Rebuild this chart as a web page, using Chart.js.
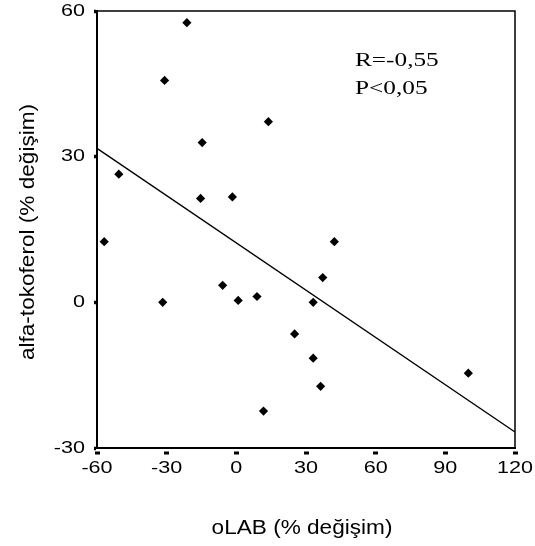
<!DOCTYPE html>
<html>
<head>
<meta charset="utf-8">
<script src="https://cdn.jsdelivr.net/npm/chart.js@4/dist/chart.umd.min.js"></script>
<style>
  html, body { margin: 0; padding: 0; background: #fff; }
  canvas { display: block; }
</style>
</head>
<body>
<canvas id="chart" width="535" height="546"></canvas>
<script>
// Percentage change per subject
const olabChange = [-21.3, -30.9, 13.8, -14.7, -50.6, -15.4, -1.7, -56.9, 42.2, 37.2,
                    -5.9, 8.9, 0.8, -31.7, 33.1, 25.1, 33.1, 36.3, 11.7, 99.9];
const tocopherolChange = [57.6, 45.7, 37.2, 32.9, 26.4, 21.4, 21.7, 12.5, 12.5, 5.1,
                          3.5, 1.2, 0.4, 0.0, 0.0, -6.5, -11.5, -17.3, -22.4, -14.6];

// Least-squares fit line, at the ends of the x range
const fitX = [-60, 120];
const fitY = [31.7, -26.7];

const xTickValues = [-60, -30, 0, 30, 60, 90, 120];
const yTickValues = [-30, 0, 30, 60];

const xTitle = 'oLAB (% değişim)';
const yTitle = 'alfa-tokoferol (% değişim)';
const statLines = ['R=-0,55', 'P<0,05'];

const SANS = '"Liberation Sans", Arial, Helvetica, sans-serif';
const SERIF = '"Liberation Serif", "Times New Roman", serif';
const TICK_STRETCH = 1.27;

// Wide-set lettering: every fillText call draws its text scaled along the text direction
let rawFillText = null;
const wideText = {
  id: 'wideText',
  beforeInit(chart) {
    const ctx = chart.ctx;
    rawFillText = ctx.fillText.bind(ctx);
    ctx.fillText = function (text, x, y, maxWidth) {
      this.save();
      this.translate(x, y);
      this.scale(TICK_STRETCH, 1);
      if (maxWidth === undefined) rawFillText(text, 0, 0);
      else rawFillText(text, 0, 0, maxWidth / TICK_STRETCH);
      this.restore();
    };
  }
};

function stretchedText(ctx, text, x, y, k, rotation) {
  ctx.save();
  ctx.translate(x, y);
  if (rotation) ctx.rotate(rotation);
  ctx.scale(k, 1);
  rawFillText(text, 0, 0);
  ctx.restore();
}

// Top and right edges of the plot frame
const frame = {
  id: 'frame',
  beforeDatasetsDraw(chart) {
    const { ctx, chartArea: a } = chart;
    ctx.save();
    ctx.strokeStyle = '#000';
    ctx.lineWidth = 1.5;
    ctx.beginPath();
    ctx.moveTo(a.left, a.top);
    ctx.lineTo(a.right, a.top);
    ctx.lineTo(a.right, a.bottom);
    ctx.stroke();
    ctx.restore();
  }
};

// Axis titles and the correlation note
const labels = {
  id: 'labels',
  afterDraw(chart) {
    const ctx = chart.ctx;
    ctx.save();
    ctx.fillStyle = '#000';
    ctx.textBaseline = 'alphabetic';

    ctx.font = '20px ' + SANS;
    ctx.textAlign = 'center';
    stretchedText(ctx, xTitle, 302, 534, 1.13, 0);
    stretchedText(ctx, yTitle, 34, 232, 1.13, -Math.PI / 2);

    ctx.font = '19px ' + SERIF;
    ctx.textAlign = 'left';
    stretchedText(ctx, statLines[0], 355, 66, 1.33, 0);
    stretchedText(ctx, statLines[1], 355, 94, 1.33, 0);
    ctx.restore();
  }
};

const points = olabChange.map((x, i) => ({ x, y: tocopherolChange[i] }));
const fitLine = fitX.map((x, i) => ({ x, y: fitY[i] }));

new Chart(document.getElementById('chart'), {
  type: 'scatter',
  data: {
    datasets: [
      {
        data: points,
        pointStyle: 'rectRot',
        pointRadius: 4.6,
        pointBackgroundColor: '#000',
        pointBorderWidth: 0,
        showLine: false
      },
      {
        type: 'line',
        data: fitLine,
        borderColor: '#000',
        borderWidth: 1.4,
        pointRadius: 0,
        fill: false,
        tension: 0
      }
    ]
  },
  options: {
    responsive: false,
    animation: false,
    devicePixelRatio: 1,
    layout: { padding: { top: 11, right: 20, left: 0, bottom: 0 } },
    plugins: { legend: { display: false }, tooltip: { enabled: false } },
    scales: {
      x: {
        type: 'linear',
        min: -60,
        max: 120,
        afterBuildTicks(scale) { scale.ticks = xTickValues.map(v => ({ value: v })); },
        afterFit(scale) {
          scale.height = 98;
          scale.paddingLeft = 0;
          scale.paddingRight = 0;
        },
        border: { display: true, color: '#000', width: 2 },
        grid: {
          drawOnChartArea: false,
          drawTicks: true,
          tickLength: 7,
          tickWidth: 5,
          tickColor: '#000',
          tickBorderDash: [0, 2.5, 3, 20]
        },
        ticks: {
          color: '#000',
          padding: 3,
          maxRotation: 0,
          font: { family: SANS, size: 17 }
        }
      },
      y: {
        type: 'linear',
        min: -30,
        max: 60,
        afterBuildTicks(scale) { scale.ticks = yTickValues.map(v => ({ value: v })); },
        afterFit(scale) {
          scale.width = 97;
          scale.paddingTop = 0;
          scale.paddingBottom = 0;
        },
        border: { display: true, color: '#000', width: 2 },
        grid: {
          drawOnChartArea: false,
          drawTicks: true,
          tickLength: 3,
          tickWidth: 3.5,
          tickColor: '#000'
        },
        ticks: {
          color: '#000',
          padding: 9,
          font: { family: SANS, size: 17 }
        }
      }
    }
  },
  plugins: [wideText, frame, labels]
});
</script>
</body>
</html>
